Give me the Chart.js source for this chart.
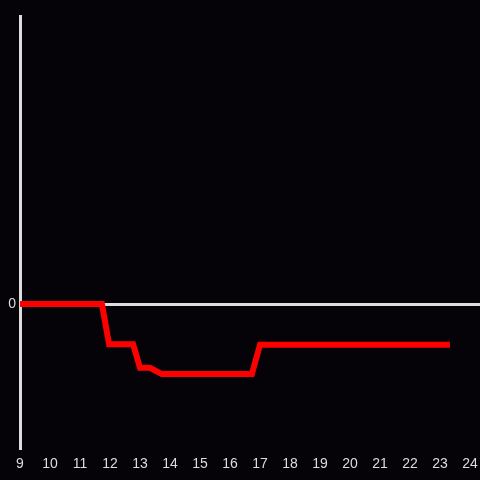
<!DOCTYPE html>
<html>
<head>
<meta charset="utf-8">
<script src="https://cdn.jsdelivr.net/npm/chart.js@4"></script>
<style>
  html, body { margin: 0; padding: 0; background: #050307; }
  #wrap { width: 480px; height: 480px; }
</style>
</head>
<body>
<div id="wrap"><canvas id="c"></canvas></div>
<script>
// ----- Data -----
const xValues = [9, 11.73, 11.97, 12.77, 13.0, 13.33, 13.73, 16.73, 17.0, 23.33];
const yValues = [0, 0, -0.84, -0.84, -1.33, -1.33, -1.46, -1.46, -0.85, -0.85];
const xTicks = [9, 10, 11, 12, 13, 14, 15, 16, 17, 18, 19, 20, 21, 22, 23, 24];
const yTicks = [0];
const X_MIN = 9, X_MAX = 24.333;
const Y_MIN = -3, Y_MAX = 6;

const axisColor = "#dddddd";

new Chart(document.getElementById("c"), {
  type: "line",
  data: {
    datasets: [{
      data: xValues.map((x, i) => ({ x, y: yValues[i] })),
      borderColor: "#ff0000",
      borderWidth: 6,
      pointRadius: 0,
      tension: 0,
      fill: false
    }]
  },
  options: {
    animation: false,
    responsive: true,
    maintainAspectRatio: false,
    layout: { padding: { top: 16, right: -2, left: 0, bottom: 0 } },
    plugins: { legend: { display: false }, tooltip: { enabled: false } },
    scales: {
      x: {
        type: "linear",
        min: X_MIN,
        max: X_MAX,
        afterBuildTicks: (s) => { s.ticks = xTicks.map((v) => ({ value: v })); },
        afterFit: (s) => { s.height = 32; s.paddingRight = 0; },
        ticks: { color: axisColor, font: { size: 14 }, padding: 0, maxRotation: 0, autoSkip: false },
        grid: { display: false },
        border: { display: false }
      },
      y: {
        type: "linear",
        min: Y_MIN,
        max: Y_MAX,
        afterBuildTicks: (s) => { s.ticks = yTicks.map((v) => ({ value: v })); },
        afterFit: (s) => { s.width = 20; },
        ticks: { color: axisColor, font: { size: 14 }, padding: 4 },
        grid: { color: axisColor, lineWidth: 3, drawTicks: false },
        border: { color: axisColor, width: 3 }
      }
    }
  }
});
</script>
</body>
</html>
